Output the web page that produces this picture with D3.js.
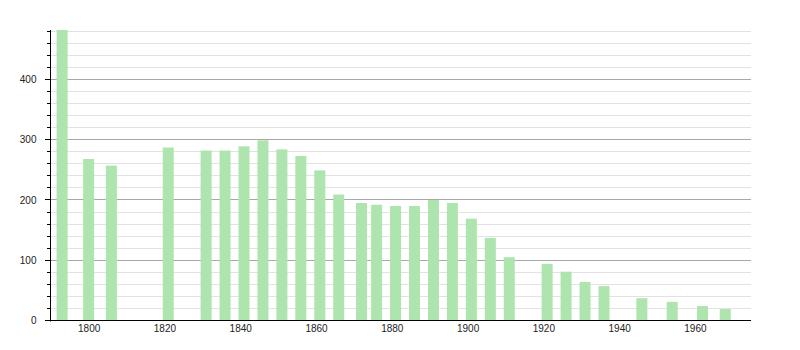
<!DOCTYPE html>
<html><head><meta charset="utf-8">
<script src="https://cdn.jsdelivr.net/npm/d3@7"></script>
<style>body{margin:0;background:#fff;} svg{display:block;font-family:"Liberation Sans",Arial,sans-serif;}</style>
</head><body>
<svg id="c" width="800" height="350"></svg>
<script>
const years = [1793,1800,1806,1821,1831,1836,1841,1846,1851,1856,1861,1866,1872,1876,1881,1886,1891,1896,1901,1906,1911,1921,1926,1931,1936,1946,1954,1962,1968];
const population = [482,268,257,287,282,282,289,299,284,273,249,209,195,192,190,190,200,195,169,137,105,94,81,64,57,37,31,24,19];
const yTicks = [0,100,200,300,400];
const xTicks = [1800,1820,1840,1860,1880,1900,1920,1940,1960];

(function () {
const svg = d3.select("#c");
const mLeft = 50, mRight = 751, mTop = 30, mBottom = 320.5;
const x = d3.scaleLinear().domain([1789.8, 1974.8]).range([mLeft, mRight]);
const y = d3.scaleLinear().domain([0, 482]).range([mBottom, mTop]);
const py = d => Math.round(y(d) - 0.5) + 0.5;

// minor gridlines
const minor = d3.range(20, 481, 20).filter(v => v % 100 !== 0);
svg.append("g").selectAll("line").data(minor).join("line")
  .attr("x1", mLeft).attr("x2", mRight)
  .attr("y1", py).attr("y2", py)
  .attr("stroke", "#e2e2e2").attr("stroke-width", 1);
// major gridlines
svg.append("g").selectAll("line").data(yTicks.filter(v => v > 0)).join("line")
  .attr("x1", mLeft).attr("x2", mRight)
  .attr("y1", py).attr("y2", py)
  .attr("stroke", "#a8a8a8").attr("stroke-width", 1);

// bars
const bw = 11;
svg.append("g").selectAll("rect").data(years).join("rect")
  .attr("x", (d) => x(d) - bw / 2)
  .attr("width", bw)
  .attr("y", (d, i) => y(population[i]))
  .attr("height", (d, i) => y(0) - y(population[i]))
  .attr("fill", "#aee4ae");

// y axis
const ya = svg.append("g").attr("transform", `translate(${mLeft + 0.5},0)`)
  .call(d3.axisLeft(y).tickValues(yTicks).tickSize(0).tickPadding(14).tickFormat(d3.format("d")));
ya.select(".domain").remove();
ya.selectAll("text").attr("font-size", 10).attr("fill", "#222").attr("font-family", "Liberation Sans, Arial, sans-serif");
svg.append("g").selectAll("line").data(d3.range(0, 481, 20)).join("line")
  .attr("x1", d => d % 100 === 0 ? mLeft - 5 : mLeft - 3).attr("x2", mLeft)
  .attr("y1", py).attr("y2", py)
  .attr("stroke", "#000");
svg.append("line").attr("x1", mLeft + 0.5).attr("x2", mLeft + 0.5).attr("y1", mTop).attr("y2", mBottom + 1)
  .attr("stroke", "#000");

// x axis
const xa = svg.append("g").attr("transform", `translate(0,${mBottom})`)
  .call(d3.axisBottom(x).tickValues(xTicks).tickSize(0).tickPadding(4).tickFormat(d3.format("d")));
xa.select(".domain").remove();
xa.selectAll("text").attr("font-size", 10).attr("fill", "#222").attr("font-family", "Liberation Sans, Arial, sans-serif");
svg.append("line").attr("x1", mLeft).attr("x2", mRight).attr("y1", py(0)).attr("y2", py(0))
  .attr("stroke", "#000");
})();
</script>
</body></html>
